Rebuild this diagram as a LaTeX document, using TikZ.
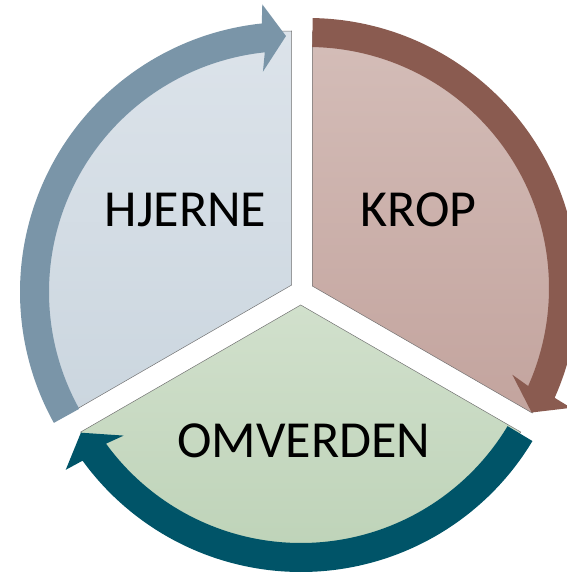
\documentclass[tikz,border=0pt]{standalone}
\usepackage{fontspec}
\setmainfont{Carlito}
\usetikzlibrary{calc}
\definecolor{hjernetop}{HTML}{DCE3EA}
\definecolor{hjernebund}{HTML}{CBD6DF}
\definecolor{hjernepil}{HTML}{7A95A8}
\definecolor{kroptop}{HTML}{D4BDB8}
\definecolor{kropbund}{HTML}{C3A49E}
\definecolor{kroppil}{HTML}{8A5B50}
\definecolor{omvtop}{HTML}{D1E0CC}
\definecolor{omvbund}{HTML}{BBD1B5}
\definecolor{omvpil}{HTML}{005468}

\begin{document}
\begin{tikzpicture}[x=1pt, y=1pt,
    segment/.style={draw=black!55, line width=0.5pt},
    tekst/.style={font=\fontsize{52}{60}\selectfont, anchor=base, inner sep=0pt}]
    \useasboundingbox (0,0) rectangle (566,574);

    % centres of the three segments and of their arrows
    \coordinate (hj) at (291.7,289);
    \coordinate (kr) at (312.3,288);
    \coordinate (om) at (300.7,269);
    \coordinate (hjpil) at (290,282);
    \coordinate (krpil) at (308,286);
    \coordinate (ompil) at (301,272);

    % segments
    \shadedraw[segment, top color=hjernetop, bottom color=hjernebund]
        (hj) -- ++(90:254pt) arc[start angle=90, end angle=210, radius=254pt] -- cycle;
    \shadedraw[segment, top color=kroptop, bottom color=kropbund]
        (kr) -- ++(-30:254pt) arc[start angle=-30, end angle=90, radius=254pt] -- cycle;
    \shadedraw[segment, top color=omvtop, bottom color=omvbund]
        (om) -- ++(210:254pt) arc[start angle=210, end angle=330, radius=254pt] -- cycle;

    % arrows
    \fill[hjernepil] ($(hjpil)+(209:270pt)$) arc[start angle=209, end angle=96, radius=270pt]
        -- ($(hjpil)+(95.5:289pt)$) -- ($(hjpil)+(90.9:256pt)$) -- ($(hjpil)+(97:222pt)$)
        -- ($(hjpil)+(96:241pt)$) arc[start angle=96, end angle=209, radius=241pt] -- cycle;
    \fill[kroppil] ($(krpil)+(89:270pt)$) arc[start angle=89, end angle=-24, radius=270pt]
        -- ($(krpil)+(-24.5:289pt)$) -- ($(krpil)+(-29.1:256pt)$) -- ($(krpil)+(-23:222pt)$)
        -- ($(krpil)+(-24:241pt)$) arc[start angle=-24, end angle=89, radius=241pt] -- cycle;
    \fill[omvpil] ($(ompil)+(-31:270pt)$) arc[start angle=-31, end angle=-144, radius=270pt]
        -- ($(ompil)+(-144.5:289pt)$) -- ($(ompil)+(-149.3:256pt)$) -- ($(ompil)+(-143:222pt)$)
        -- ($(ompil)+(-144:241pt)$) arc[start angle=-144, end angle=-31, radius=241pt] -- cycle;

    % texts
    \node[tekst] (hjerne) at (185.5,347) {HJERNE};
    \node[tekst] (krop) at (418.5,347) {KROP};
    \node[tekst] (omverden) at (304,116) {OMVERDEN};
\end{tikzpicture}
\end{document}
